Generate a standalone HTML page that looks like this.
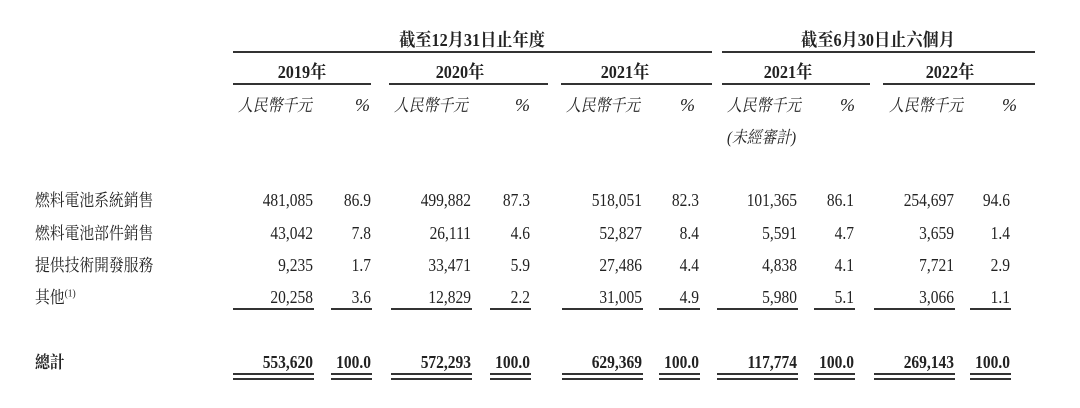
<!DOCTYPE html><html><head><meta charset="utf-8"><style>
body{margin:0;width:1080px;height:408px;background:#fff;position:relative;overflow:hidden;font-family:"Liberation Serif","Noto Serif CJK SC",serif;color:#222;}
.t{position:absolute;font-size:18px;line-height:20px;white-space:nowrap;}
.r{transform-origin:right center;transform:translateX(-100%) scaleX(.86);}
.c{transform:translateX(-50%) scaleX(.9);}
.b{font-weight:bold;}
.i{font-style:italic;}
.k{font-size:17px;transform-origin:left center;transform:scaleX(.87);margin-top:1px;}
.l{position:absolute;background:#333;height:2px;}
sup{line-height:0;font-size:11px;}
</style></head><body>
<div class="t b c" style="left:472px;top:30px">截至12月31日止年度</div>
<div class="t b c" style="left:878px;top:30px">截至6月30日止六個月</div>
<div class="l" style="left:233px;top:51px;width:479px"></div>
<div class="l" style="left:722px;top:51px;width:313px"></div>
<div class="t b c" style="left:302px;top:62px">2019年</div>
<div class="t b c" style="left:460px;top:62px">2020年</div>
<div class="t b c" style="left:625px;top:62px">2021年</div>
<div class="t b c" style="left:788px;top:62px">2021年</div>
<div class="t b c" style="left:950px;top:62px">2022年</div>
<div class="l" style="left:233px;top:83px;width:138px"></div>
<div class="l" style="left:389px;top:83px;width:159px"></div>
<div class="l" style="left:561px;top:83px;width:151px"></div>
<div class="l" style="left:722px;top:83px;width:148px"></div>
<div class="l" style="left:883px;top:83px;width:152px"></div>
<div class="t i k" style="left:238px;top:95px">人民幣千元</div><div class="t i" style="left:355px;top:95px">%</div>
<div class="t i k" style="left:394px;top:95px">人民幣千元</div><div class="t i" style="left:515px;top:95px">%</div>
<div class="t i k" style="left:566px;top:95px">人民幣千元</div><div class="t i" style="left:680px;top:95px">%</div>
<div class="t i k" style="left:727px;top:95px">人民幣千元</div><div class="t i" style="left:840px;top:95px">%</div>
<div class="t i k" style="left:727px;top:127px">(未經審計)</div>
<div class="t i k" style="left:889px;top:95px">人民幣千元</div><div class="t i" style="left:1002px;top:95px">%</div>

<div class="t k" style="left:35px;top:190px">燃料電池系統銷售</div>
<div class="t k" style="left:35px;top:223px">燃料電池部件銷售</div>
<div class="t k" style="left:35px;top:255px">提供技術開發服務</div>
<div class="t k" style="left:35px;top:287px">其他<sup>(1)</sup></div>
<div class="t b k" style="left:35px;top:352px">總計</div>

<div id="d"></div>
<script>
var A=[313,471,642,797,954],P=[371,530,699,854,1010];
var rows=[
[190,["481,085","86.9","499,882","87.3","518,051","82.3","101,365","86.1","254,697","94.6"]],
[223,["43,042","7.8","26,111","4.6","52,827","8.4","5,591","4.7","3,659","1.4"]],
[255,["9,235","1.7","33,471","5.9","27,486","4.4","4,838","4.1","7,721","2.9"]],
[287,["20,258","3.6","12,829","2.2","31,005","4.9","5,980","5.1","3,066","1.1"]],
[352,["553,620","100.0","572,293","100.0","629,369","100.0","117,774","100.0","269,143","100.0"]]];
var h="";
rows.forEach(function(r,ri){for(var i=0;i<5;i++){var bb=ri==4?" b":"";
h+='<div class="t r'+bb+'" style="left:'+A[i]+'px;top:'+r[0]+'px">'+r[1][2*i]+'</div>';
h+='<div class="t r'+bb+'" style="left:'+P[i]+'px;top:'+r[0]+'px">'+r[1][2*i+1]+'</div>';}});
for(var i=0;i<5;i++){
h+='<div class="l" style="left:'+(A[i]-80)+'px;top:308px;width:81px"></div>';
h+='<div class="l" style="left:'+(P[i]-40)+'px;top:308px;width:41px"></div>';
[373,378].forEach(function(y){
h+='<div class="l" style="left:'+(A[i]-80)+'px;top:'+y+'px;width:81px"></div>';
h+='<div class="l" style="left:'+(P[i]-40)+'px;top:'+y+'px;width:41px"></div>';});}
document.getElementById("d").innerHTML=h;
</script>
</body></html>
